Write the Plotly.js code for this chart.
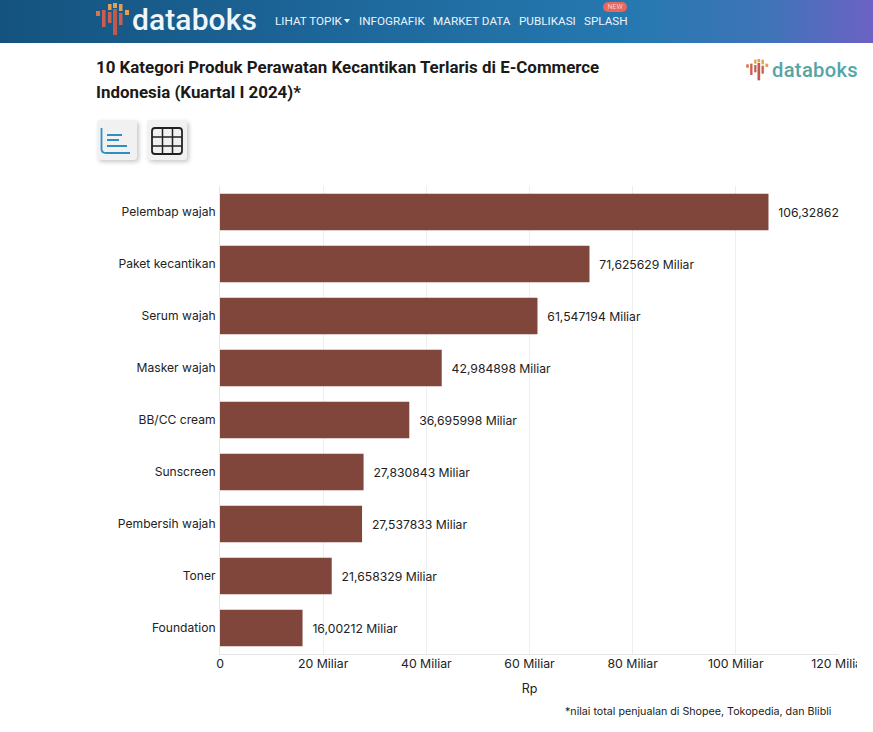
<!DOCTYPE html>
<html><head><meta charset="utf-8">
<script src="https://cdn.plot.ly/plotly-3.0.1.min.js"></script>
<style>
html,body{margin:0;padding:0;background:#fff;width:873px;height:732px;overflow:hidden}
#hdr{position:absolute;left:0;top:0;width:873px;height:43px;background:linear-gradient(90deg,#14537f 0%,#1f6a9f 45%,#2579b0 72%,#3f74b8 88%,#6c62c4 100%);}
.nav{position:absolute;top:13.500px;color:#eaf4fb;font:11.700px Roboto,sans-serif;white-space:nowrap}
#caret{position:absolute;left:344px;top:19px;width:0;height:0;border-left:3.500px solid transparent;border-right:3.500px solid transparent;border-top:4px solid #eaf4fb}
#new{position:absolute;left:603px;top:2px;width:24px;height:10px;border-radius:5px;background:#e8675f;color:#f6d0cc;font:7px Roboto,sans-serif;text-align:center;line-height:10px}
.word{position:absolute;font-family:Roboto,sans-serif;font-weight:500;white-space:nowrap}
.btn{position:absolute;top:120px;width:40px;height:40px;background:#f1f1f1;border-radius:3px;box-shadow:2px 2px 4px rgba(0,0,0,.22)}
.logo{position:absolute}
#chart{position:absolute;left:0;top:0;width:857px;height:732px;overflow:hidden}
</style></head><body>
<div id="hdr">
<svg class="logo" style="left:96px;top:3px" width="34" height="33" viewBox="0 0 34 33">
<g id="lg"><rect x="0" y="8" width="4" height="5" fill="#d9764f"/><rect x="6" y="7" width="3.500" height="17" fill="#c9604f"/><rect x="12" y="1" width="3.500" height="6" fill="#e0a050"/><rect x="12" y="9" width="3.500" height="11" fill="#c9604f"/><rect x="17" y="0" width="4" height="5" fill="#e0a050"/><rect x="17" y="6" width="4" height="26" fill="#c05a50"/><rect x="23" y="1" width="3.500" height="7" fill="#e0a050"/><rect x="23" y="10" width="3.500" height="12" fill="#c9604f"/><rect x="29" y="7" width="4" height="5" fill="#e0a050"/></g>
</svg>
<div class="word" style="left:132px;top:2px;font-size:30px;color:#eef6fb;letter-spacing:.1px">databoks</div>
<div class="nav" style="left:275px">LIHAT TOPIK</div><div id="caret"></div>
<div class="nav" style="left:359px">INFOGRAFIK</div>
<div class="nav" style="left:433px">MARKET DATA</div>
<div class="nav" style="left:519px">PUBLIKASI</div>
<div class="nav" style="left:584px">SPLASH</div>
<div id="new">NEW</div>
</div>
<svg class="logo" style="left:746px;top:59px" width="23" height="22" viewBox="0 0 34 33">
<use href="#lg"/>
</svg>
<div class="word" style="left:772px;top:58px;font-size:20.200px;color:#55a5a5;letter-spacing:.3px">databoks</div>
<div class="btn" style="left:97px"><svg width="40" height="40"><path d="M4.500 8 V29 Q4.500 33 9 33 H33" fill="none" stroke="#2f8fc0" stroke-width="1.800"/><path d="M10 15 H25 M10 20 H22 M10 26 H30" stroke="#2f8fc0" stroke-width="1.800"/></svg></div>
<div class="btn" style="left:147px"><svg width="40" height="40"><rect x="5" y="8" width="30" height="26" rx="3" fill="none" stroke="#222" stroke-width="1.800"/><path d="M5 17 H35 M5 26 H35 M15.500 8 V34 M25.500 8 V34" stroke="#222" stroke-width="1.500"/></svg></div>
<div id="chart"></div>
<script>
var categories=["Pelembap wajah","Paket kecantikan","Serum wajah","Masker wajah","BB/CC cream","Sunscreen","Pembersih wajah","Toner","Foundation"];
var salesMiliar=[106.32862,71.625629,61.547194,42.984898,36.695998,27.830843,27.537833,21.658329,16.00212];
var valueLabels=["106,32862 Miliar","71,625629 Miliar","61,547194 Miliar","42,984898 Miliar","36,695998 Miliar","27,830843 Miliar","27,537833 Miliar","21,658329 Miliar","16,00212 Miliar"];
var tickValues=[0,20,40,60,80,100,120];
var tickLabels=["0","20 Miliar","40 Miliar","60 Miliar","80 Miliar","100 Miliar","120 Miliar"];
var W=857,H=732;
var tf="Inter, sans-serif";
Plotly.newPlot("chart",[{
 type:"bar",orientation:"h",y:categories,x:salesMiliar,
 marker:{color:"#80453b"},
 text:valueLabels.map(function(s){return "\u00a0\u00a0"+s;}),
 textposition:"outside",constraintext:"none",cliponaxis:true,
 textfont:{family:tf,size:12.200,color:"#222"},
 hoverinfo:"x+y"
}],{
 width:W,height:H,paper_bgcolor:"rgba(0,0,0,0)",plot_bgcolor:"rgba(0,0,0,0)",
 margin:{l:219.500,r:W-839,t:186,b:H-654,pad:0},
 bargap:0.3,showlegend:false,
 title:{text:"<b><span style=\"font-size:16.900px\">10 Kategori Produk Perawatan Kecantikan Terlaris di E-Commerce<br>Indonesia (Kuartal I 2024)*</span></b>",
  font:{family:"Roboto, sans-serif",size:19.200,color:"#1a1a1a"},x:96/W,xanchor:"left",y:1-73/H,yanchor:"top",pad:{t:0,b:0,l:0,r:0}},
 xaxis:{range:[0,120],tickvals:tickValues,ticktext:tickLabels,tickfont:{family:tf,size:12.300,color:"#222"},
  gridcolor:"#eeeeee",gridwidth:1,zeroline:false,showline:true,linecolor:"#e6e6e6",linewidth:1,ticks:"",ticklen:0,tickangle:0,automargin:false,
  ticklabeloverflow:"allow",ticklabelstandoff:-2,
  title:{text:"Rp",font:{family:tf,size:12.500,color:"#222"},standoff:14}},
 yaxis:{autorange:"reversed",type:"category",tickfont:{family:tf,size:12.100,color:"#222"},showgrid:false,zeroline:false,showline:true,linecolor:"#e6e6e6",linewidth:1,ticks:"",automargin:false,ticklabelstandoff:1},
 annotations:[{xref:"paper",yref:"paper",x:(833-219.5)/(839-219.5),y:-(711-654)/468,xanchor:"right",yanchor:"middle",showarrow:false,
  text:"*nilai total penjualan di Shopee, Tokopedia, dan Blibli",font:{family:tf,size:10.700,color:"#222"}}]
},{displayModeBar:false,staticPlot:false,responsive:false});
</script>
</body></html>
